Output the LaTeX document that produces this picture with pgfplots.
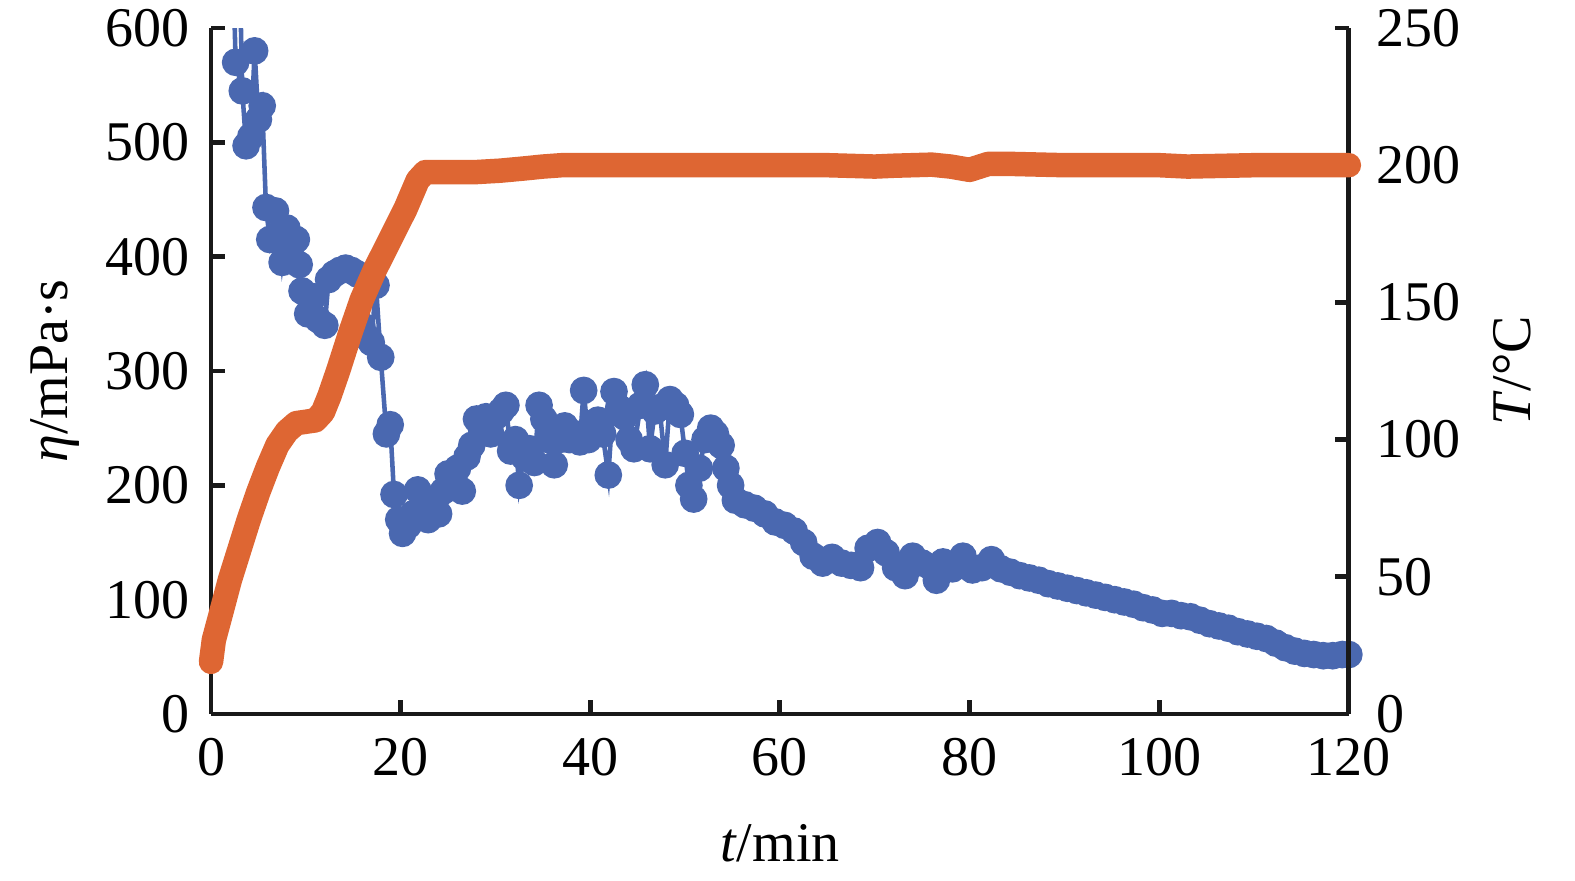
\documentclass[border=0pt]{standalone}
\usepackage{pgfplots}
\pgfplotsset{compat=1.18}
\usepackage{fontspec}
\setmainfont{Liberation Serif}
\definecolor{cblue}{HTML}{4A68B0}
\definecolor{corange}{HTML}{DE6633}
\begin{document}
\begin{tikzpicture}
\pgfplotsset{
  every axis/.append style={
    scale only axis, width=325.1pt, height=196pt,
    xmin=0, xmax=120,
    tick align=inside, major tick length=4pt,
    axis line style={-, line width=1.4pt, black!90},
    major tick style={line width=1.4pt, black!90},
    tick label style={font=\fontsize{16}{19}\selectfont},
    label style={font=\fontsize{16}{19}\selectfont},
    /pgf/number format/assume math mode=true,
  }
}
\begin{axis}[
  axis x line*=bottom, axis y line*=left,
  ymin=0, ymax=600, ytick={0,100,...,600}, xtick={0,20,...,120},
  xlabel={\textit{t}/min},
  ylabel={\textit{η}/mPa·s},
  xticklabel style={yshift=-3.5pt},
  yticklabel style={xshift=-2.5pt},
  xlabel style={at={([yshift=-37pt]axis description cs:0.5,0)}, anchor=center},
  ylabel style={at={([xshift=-44.6pt]axis description cs:0,0.5)}, anchor=center},
]
\coordinate (o) at (rel axis cs:0,0);
\addplot[cblue, line width=1.3pt, no marks] coordinates {(2.3,660)(2.6,570)};
\addplot[cblue, line width=1.3pt, no marks] coordinates {(3.0,660)(3.3,545)};
\addplot[cblue, line width=1.3pt, mark=*, mark size=3.3pt, mark options={draw=none, fill=cblue}] coordinates {
(2.6,570)(3.3,545)(3.7,497)(4.2,505)(4.6,580)(5.0,520)(5.4,532)(5.8,443)(6.2,415)
(6.8,440)(7.2,420)(7.5,395)(8.0,425)(8.5,410)(9.0,415)(9.3,393)(9.6,370)(10.2,350)
(10.8,365)(11.3,345)(12.0,340)(12.4,380)(13.0,385)(13.6,388)(14.2,390)(14.8,388)
(15.4,385)(15.9,340)(16.4,330)(16.9,325)(17.4,375)(17.9,312)(18.5,245)(18.9,253)
(19.3,192)(19.8,170)(20.2,158)(20.8,165)(21.3,175)(21.8,196)(22.4,180)(22.9,170)
(23.5,185)(24.0,175)(24.5,195)(25.0,210)(25.5,200)(26.0,215)(26.5,195)(27.0,225)
(27.5,235)(28.0,258)(28.5,250)(29.0,260)(29.5,245)(30.0,260)(30.6,265)(31.1,270)
(31.6,230)(32.1,240)(32.5,200)(33.0,225)(33.6,232)(34.1,220)(34.6,270)(35.1,258)
(35.6,240)(36.2,218)(36.7,240)(37.3,252)(37.8,240)(38.4,245)(38.9,238)(39.3,283)
(39.8,240)(40.3,250)(40.8,257)(41.3,245)(41.9,209)(42.5,282)(43.0,268)(43.6,260)
(44.1,240)(44.6,232)(45.3,270)(45.8,288)(46.3,232)(46.8,265)(47.3,268)(47.9,218)
(48.4,275)(49.0,270)(49.5,262)(50.0,228)(50.4,200)(50.9,188)(51.5,215)(52.1,240)
(52.7,250)(53.2,245)(53.8,235)(54.3,215)(54.8,200)(55.3,187)
(56.3,183)(57.3,180)(58.4,175)(59.5,168)(60.5,165)(61.5,160)(62.5,150)(63.5,138)
(64.5,132)(65.5,137)(66.5,132)(67.5,130)(68.5,128)(69.3,145)(70.3,150)(71.2,141)
(72.2,128)(73.2,121)(74.0,138)(75.0,132)(76.0,128)(76.5,117)(77.2,133)(78.2,127)
(79.3,138)(80.3,126)(81.3,128)(82.3,135)(83.3,127)(84.3,124)(85.3,121)(86.3,119)
(87.3,117)(88.3,114)(89.3,112)(90.3,110)(91.3,108)(92.3,106)(93.3,104)(94.3,102)
(95.3,100)(96.3,98)(97.3,96)(98.3,93)(99.3,91)(100.3,88)(101.3,88)(102.3,86)
(103.3,85)(104.3,82)(105.3,79)(106.3,77)(107.3,75)(108.3,72)(109.3,70)(110.3,68)
(111.3,66)(112.3,62)(113.3,58)(114.3,55)(115.3,53)(116.3,52)(117.3,51)(118.3,51)
(119.3,52)(120,52)
};
\end{axis}
\begin{axis}[
  axis x line=none, axis y line*=right,
  ymin=0, ymax=250, ytick={0,50,...,250},
  ylabel={\textit{T}/°C},
  clip=false,
  yticklabel style={xshift=4.5pt},
  ylabel style={at={([xshift=46.6pt]axis description cs:1,0.5)}, anchor=center},
]
\addplot[corange, line width=7pt, line join=round, line cap=round, no marks] coordinates {
(0,19)(0.3,27)(1,36)(2,49)(3,60)(4,71)(5,81)(6,90)(7,98)(8,103)(9,106)(10,106.5)
(11,107)(11.8,110)(12.5,116)(13.4,125)(14.7,139)(15.9,151)(17.3,162)(18.9,173)
(20.5,184)(21.8,194.5)(22.6,197.5)(25,197.5)(28,197.5)(30.5,198)(33,198.8)(35,199.5)
(37,200)(45,200)(55,200)(65,200)(70,199.5)(72,199.8)(76,200.2)(78,199.5)(80,198.3)
(82,200.5)(84,200.5)(90,200)(100,200)(103,199.5)(110,200)(115,200)(120,200)
};
\end{axis}
\pgfresetboundingbox
\path (o) ++(-60.29pt,-47.43pt) rectangle ++(450pt,251.43pt);
\end{tikzpicture}
\end{document}
